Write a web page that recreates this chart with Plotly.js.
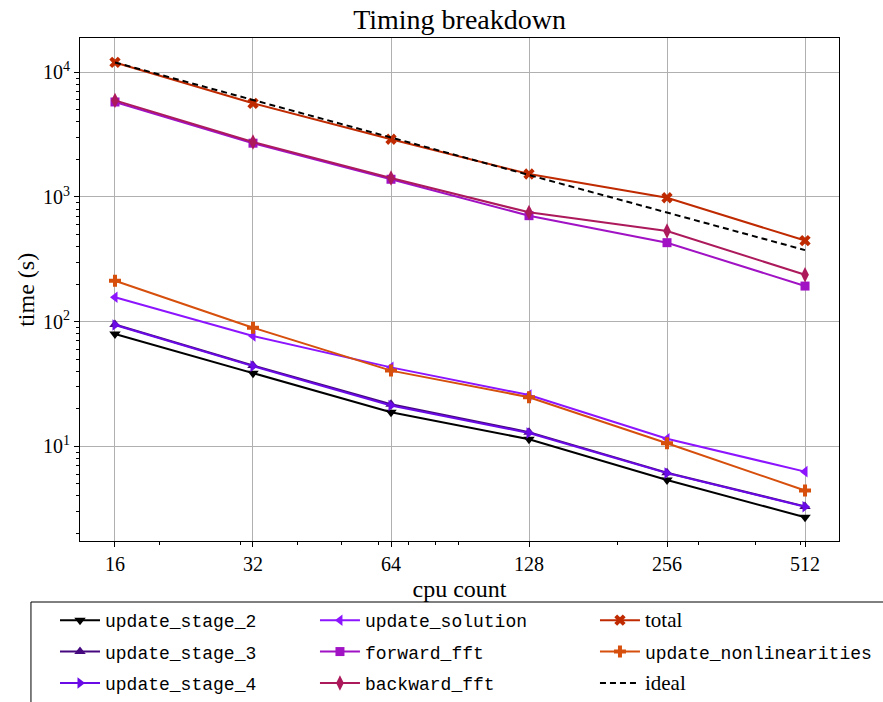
<!DOCTYPE html>
<html><head><meta charset="utf-8">
<script src="https://cdn.plot.ly/plotly-3.0.1.min.js"></script>
<style>html,body{margin:0;padding:0;background:#fff}#chart{width:883px;height:702px}</style>
</head><body><div id="chart"></div>
<script>
const cpuCounts = [16, 32, 64, 128, 256, 512];
const xTickText = ['16', '32', '64', '128', '256', '512'];
const yTickVals = [10, 100, 1000, 10000];
const yTickText = ['10<sup>1</sup>', '10<sup>2</sup>', '10<sup>3</sup>', '10<sup>4</sup>'];
const xMinorVals = [20, 30, 40, 50, 60, 70, 80, 90, 200, 300, 400, 500];
const yMinorVals = [2,3,4,5,6,7,8,9,20,30,40,50,60,70,80,90,200,300,400,500,600,700,800,900,2000,3000,4000,5000,6000,7000,8000,9000];

const updateStage2 = [79.6, 38.5, 18.8, 11.4, 5.38, 2.70];
const updateStage3 = [95, 44.5, 21.8, 13.0, 6.15, 3.30];
const updateStage4 = [94, 44, 21.3, 12.8, 6.10, 3.28];
const updateSolution = [157, 76.7, 43, 25.8, 11.5, 6.27];
const forwardFft = [5780, 2700, 1387, 708, 430, 193];
const backwardFft = [5950, 2760, 1420, 753, 533, 238];
const total = [12000, 5640, 2905, 1528, 986, 447];
const updateNonlinearities = [213, 89.5, 40.5, 24.8, 10.6, 4.42];
const ideal = [12000, 6000, 3000, 1500, 750, 375];

const SERIF = '"Liberation Serif", "DejaVu Serif", serif';
const MONO = '"Liberation Mono", "DejaVu Sans Mono", monospace';

function tr(name, y, color, symbol, legend, size) {
  return {
    type: 'scatter', mode: 'lines+markers', x: cpuCounts, y: y, name: name,
    line: {color: color, width: 2},
    marker: {symbol: symbol, size: size || 10, color: color},
    legend: legend, legendgroup: 'g_' + symbol
  };
}
const serifName = s => '<span style="font-family:Liberation Serif;font-size:21px">' + s + '</span>';

const data = [
  tr('update_stage_2', updateStage2, '#000000', 'triangle-down', 'legend'),
  tr('update_stage_3', updateStage3, '#46087f', 'triangle-up', 'legend'),
  tr('update_stage_4', updateStage4, '#6a0ae6', 'triangle-right', 'legend'),
  tr('update_solution', updateSolution, '#8c14ff', 'triangle-left', 'legend2'),
  tr('forward_fft', forwardFft, '#a012c4', 'square', 'legend2', 9),
  tr('backward_fft', backwardFft, '#ac1a5c', 'diamond-tall', 'legend2', 11),
  tr(serifName('total'), total, '#bf2a00', 'x', 'legend3'),
  tr('update_nonlinearities', updateNonlinearities, '#d64f0c', 'cross', 'legend3'),
  {type:'scatter', mode:'lines', x: cpuCounts, y: ideal, name: serifName('ideal'),
   line:{color:'#000000', width:2, dash:'6px,4px'}, legend:'legend3', legendgroup: 'g_ideal'}
];

const legendBase = {
  xref: 'container', yref: 'container', xanchor: 'left', yanchor: 'top', y: 0.1425,
  bgcolor: 'rgba(0,0,0,0)', borderwidth: 0, orientation: 'v',
  font: {family: MONO, size: 18, color: '#000'}, tracegroupgap: 5, itemwidth: 40
};

const layout = {
  width: 883, height: 702,
  margin: {l: 80, r: 44, t: 38, b: 161, autoexpand: false},
  paper_bgcolor: '#fff', plot_bgcolor: '#fff',
  font: {family: SERIF, size: 19, color: '#000'},
  title: {text: 'Timing breakdown', x: 0.5205, xanchor: 'center', y: 0.972, yanchor: 'middle',
          font: {family: SERIF, size: 28, color: '#000'}},
  xaxis: {
    type: 'log', range: [1.1278, 2.7834], automargin: false,
    tickmode: 'array', tickvals: cpuCounts, ticktext: xTickText,
    ticks: 'outside', ticklen: 5, tickwidth: 1, tickcolor: '#000',
    showline: true, linecolor: '#000', linewidth: 1, mirror: true,
    showgrid: true, gridcolor: '#b0b0b0', gridwidth: 1, zeroline: false,
    minor: {tickmode: 'array', tickvals: xMinorVals, ticks: 'outside', ticklen: 3, tickcolor: '#000', showgrid: false},
    tickfont: {family: SERIF, size: 20},
    title: {text: 'cpu count', font: {family: SERIF, size: 24}, standoff: 6}
  },
  yaxis: {
    type: 'log', range: [0.241, 4.275], automargin: false,
    tickmode: 'array', tickvals: yTickVals, ticktext: yTickText,
    ticks: 'outside', ticklen: 5, tickwidth: 1, tickcolor: '#000',
    showline: true, linecolor: '#000', linewidth: 1, mirror: true,
    showgrid: true, gridcolor: '#b0b0b0', gridwidth: 1, zeroline: false,
    minor: {tickmode: 'array', tickvals: yMinorVals, ticks: 'outside', ticklen: 3, tickcolor: '#000', showgrid: false},
    tickfont: {family: SERIF, size: 20}
  },
  annotations: [{text: 'time (s)', xref: 'paper', yref: 'paper', x: -0.072, y: 0.5,
                 xanchor: 'center', yanchor: 'middle', textangle: -90, showarrow: false,
                 font: {family: SERIF, size: 24, color: '#000'}}],
  legend: Object.assign({}, legendBase, {x: 0.0623}),
  legend2: Object.assign({}, legendBase, {x: 0.3567}),
  legend3: Object.assign({}, legendBase, {x: 0.6738}),
  shapes: [{type: 'rect', xref: 'paper', yref: 'paper',
            x0: -0.0646, x1: 1.08, y0: -0.40, y1: -0.1213,
            line: {color: '#000', width: 1}, fillcolor: 'rgba(0,0,0,0)'}]
};

Plotly.newPlot('chart', data, layout, {displayModeBar: false, staticPlot: true});
</script>
</body></html>
